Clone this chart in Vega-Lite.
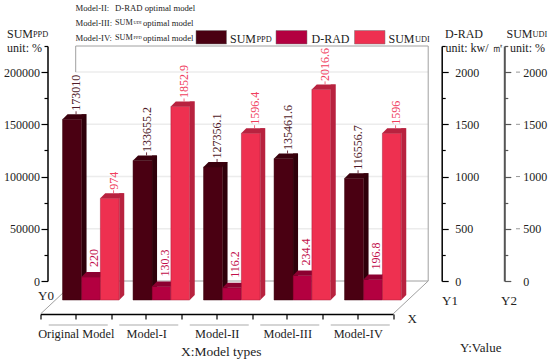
{
"$schema":"https://vega.github.io/schema/vega-lite/v6.json",
"width":352.5,"height":235,
"autosize":{"type":"none"},
"padding":{"left":40.5,"top":46,"right":157,"bottom":81},
"background":"white",
"config":{"view":{"stroke":null},"text":{"font":"Liberation Serif","fontSize":12,"align":"left","baseline":"middle","color":"#222"},"axis":{"labelFont":"Liberation Serif","labelFontSize":12,"labelColor":"#222","grid":false,"title":null}},
"datasets":{"bars":[
{"model":"Original Model","series":"SUMPPD","value":173010},
{"model":"Original Model","series":"D-RAD","value":220},
{"model":"Original Model","series":"SUMUDI","value":974},
{"model":"Model-I","series":"SUMPPD","value":133655.2},
{"model":"Model-I","series":"D-RAD","value":130.3},
{"model":"Model-I","series":"SUMUDI","value":1852.9},
{"model":"Model-II","series":"SUMPPD","value":127356.1},
{"model":"Model-II","series":"D-RAD","value":116.2},
{"model":"Model-II","series":"SUMUDI","value":1596.4},
{"model":"Model-III","series":"SUMPPD","value":135461.6},
{"model":"Model-III","series":"D-RAD","value":234.4},
{"model":"Model-III","series":"SUMUDI","value":2016.6},
{"model":"Model-IV","series":"SUMPPD","value":116556.7},
{"model":"Model-IV","series":"D-RAD","value":196.8},
{"model":"Model-IV","series":"SUMUDI","value":1596}
]},
"data":{"name":"bars"},
"resolve":{"scale":{"x":"independent","y":"independent"},"axis":{"x":"independent","y":"independent"}},
"layer":[
{"data":{"values":[{"level":50000},{"level":100000},{"level":150000},{"level":200000}]},
 "mark":{"type":"rule","color":"#ececec","strokeWidth":1.5,"xOffset":35.2,"x2Offset":35.2},
 "encoding":{"x":{"datum":0,"type":"quantitative","axis":null,"scale":{"domain":[0,5],"range":[0,352.5],"nice":false}},"x2":{"datum":5},
 "y":{"field":"level","type":"quantitative","axis":null,"scale":{"domain":[0,225000],"nice":false}}}},
{"data":{"values":[{"level":500},{"level":1000},{"level":1500},{"level":2000}]},
 "mark":{"type":"point","filled":false,"opacity":1,"size":4,"stroke":"#999","strokeWidth":1,"shape":"M-2,0L2,0","xOffset":125},
 "encoding":{"x":{"datum":5,"type":"quantitative","axis":null,"scale":{"domain":[0,5],"range":[0,352.5],"nice":false}},
 "y":{"field":"level","type":"quantitative","axis":null,"scale":{"domain":[0,2250],"nice":false}}}},
{"data":{"values":[{"part":"frame"}]},
 "encoding":{"x":{"datum":0,"type":"quantitative","axis":null,"scale":{"domain":[0,5],"range":[0,352.5],"nice":false}},"y":{"datum":0,"type":"quantitative","axis":null,"scale":{"domain":[0,225000],"nice":false}}},
 "layer":[
 {"mark":{"type":"rule","color":"#a0a0a0","strokeWidth":1,"xOffset":35.2,"x2Offset":35.2},"encoding":{"x2":{"datum":5},"y":{"datum":225000}}},
 {"mark":{"type":"rule","color":"#a0a0a0","strokeWidth":1,"xOffset":35.2,"x2Offset":35.2},"encoding":{"x2":{"datum":5}}},
 {"mark":{"type":"rule","color":"#a0a0a0","strokeWidth":1,"xOffset":35.2},"encoding":{"y":{"datum":225000},"y2":{"datum":200000}}},
 {"mark":{"type":"rule","color":"#a0a0a0","strokeWidth":1,"xOffset":35.2},"encoding":{"x":{"datum":5},"y":{"datum":225000},"y2":{"datum":0}}},
 {"mark":{"type":"rule","color":"#a0a0a0","strokeWidth":1,"yOffset":33,"y2Offset":0,"x2Offset":35.2},"encoding":{"x2":{"datum":0},"y2":{"datum":0}}},
 {"mark":{"type":"rule","color":"#a0a0a0","strokeWidth":1,"yOffset":33,"y2Offset":0,"x2Offset":35.2},"encoding":{"x":{"datum":5},"x2":{"datum":5},"y2":{"datum":0}}}
 ]},
{"data":{"values":[{"model":"Original Model"},{"model":"Model-I"},{"model":"Model-II"},{"model":"Model-III"},{"model":"Model-IV"}]},
 "mark":{"type":"tick","orient":"horizontal","size":59,"thickness":1.2,"color":"#8a8a8a","xOffset":2.5,"yOffset":44},
 "encoding":{"x":{"field":"model","type":"nominal","sort":null,"scale":{"domain":["Original Model","Model-I","Model-II","Model-III","Model-IV"],"range":[0,352.5],"paddingInner":0,"paddingOuter":0},
  "axis":{"orient":"bottom","offset":33,"domainColor":"#000","domainWidth":1.5,"tickColor":"#000","tickWidth":1.2,"tickSize":5,"tickBand":"extent","tickExtra":true,"labelAngle":0,"labelPadding":8,"labelBaseline":"top","labelFontSize":12.3}},
  "y":{"datum":0,"type":"quantitative","axis":null,"scale":{"domain":[0,225000],"nice":false}}}},
{"data":{"values":[{"model":"Original Model"},{"model":"Model-I"},{"model":"Model-II"},{"model":"Model-III"},{"model":"Model-IV"}]},
 "mark":{"type":"point","opacity":0},
 "encoding":{"x":{"field":"model","type":"nominal","sort":null,"scale":{"domain":["Original Model","Model-I","Model-II","Model-III","Model-IV"],"range":[0,352.5],"paddingInner":0,"paddingOuter":0},
  "axis":{"orient":"bottom","offset":33,"domain":false,"labels":false,"tickColor":"#000","tickWidth":1.2,"tickSize":5,"tickBand":"center"}},
  "y":{"datum":0,"type":"quantitative","axis":null,"scale":{"domain":[0,225000],"nice":false}}}},
{"transform":[{"filter":"datum.series==='SUMPPD'"}],
 "encoding":{"x":{"field":"model","type":"nominal","sort":null,"axis":null,"scale":{"domain":["Original Model","Model-I","Model-II","Model-III","Model-IV"],"range":[0,352.5],"paddingInner":0,"paddingOuter":0}},
 "y":{"field":"value","type":"quantitative","scale":{"domain":[0,225000],"nice":false},
  "axis":{"orient":"left","offset":-7,"values":[0,25000,50000,75000,100000,125000,150000,175000,200000,225000],"format":"d","labelExpr":"datum.value%50000===0?datum.label:''","domainColor":"#000","domainWidth":1.5,"tickColor":"#000","tickWidth":1.2,"tickSize":{"condition":{"test":"datum.value%50000===0","value":6.5},"value":3.5},"labelPadding":1.5,"labelOverlap":false,"labelBound":false,"labelFlush":false}}},
 "layer":[
 {"mark":{"type":"bar","width":5,"color":"#2f000a","xOffset":8.3,"yOffset":14,"y2Offset":14},"encoding":{"y2":{"datum":0}}},
 {"mark":{"type":"point","filled":true,"opacity":1,"size":4,"color":"#2f000a","shape":"M0,0L5,0L0,5Z","xOffset":5.8,"yOffset":14},"encoding":{"y":{"datum":0}}},
 {"mark":{"type":"bar","width":19,"color":"#4a0012","stroke":"#3a000d","strokeWidth":0.5,"xOffset":-3.7,"yOffset":19,"y2Offset":19},"encoding":{"y2":{"datum":0}}},
 {"mark":{"type":"point","filled":true,"opacity":1,"size":4,"color":"#3a000d","shape":"M-12,2.5L7,2.5L12,-2.5L-7,-2.5Z","xOffset":-1.2,"yOffset":16.5}},
 {"mark":{"type":"point","filled":false,"opacity":1,"size":4,"stroke":"#4a0012","strokeWidth":0.8,"shape":"M0,0L0,-3","xOffset":0.3,"yOffset":14}},
 {"mark":{"type":"text","angle":270,"align":"left","baseline":"middle","color":"#4f1a28","xOffset":0.3,"yOffset":10.5},"encoding":{"text":{"field":"value","type":"nominal"}}}
 ]},
{"transform":[{"filter":"datum.series==='D-RAD'"}],
 "encoding":{"x":{"field":"model","type":"nominal","sort":null,"axis":null,"scale":{"domain":["Original Model","Model-I","Model-II","Model-III","Model-IV"],"range":[0,352.5],"paddingInner":0,"paddingOuter":0}},
 "y":{"field":"value","type":"quantitative","scale":{"domain":[0,2250],"nice":false},
  "axis":{"orient":"right","offset":48.7,"values":[0,250,500,750,1000,1250,1500,1750,2000,2250],"format":"d","labelExpr":"datum.value%500===0?datum.label:''","domainColor":"#000","domainWidth":1.5,"tickColor":"#000","tickWidth":1.2,"tickSize":{"condition":{"test":"datum.value%500===0","value":6.5},"value":3.5},"labelPadding":6.5,"labelAlign":"left","labelOverlap":false,"labelBound":false,"labelFlush":false}}},
 "layer":[
 {"mark":{"type":"bar","width":5,"color":"#8c0030","xOffset":27.2,"yOffset":14,"y2Offset":14},"encoding":{"y2":{"datum":0}}},
 {"mark":{"type":"point","filled":true,"opacity":1,"size":4,"color":"#8c0030","shape":"M0,0L5,0L0,5Z","xOffset":24.7,"yOffset":14},"encoding":{"y":{"datum":0}}},
 {"mark":{"type":"bar","width":18.7,"color":"#b30040","stroke":"#7a0028","strokeWidth":0.5,"xOffset":15.2,"yOffset":19,"y2Offset":19},"encoding":{"y2":{"datum":0}}},
 {"mark":{"type":"point","filled":true,"opacity":1,"size":4,"color":"#8c0030","shape":"M-12,2.5L7,2.5L12,-2.5L-7,-2.5Z","xOffset":17.7,"yOffset":16.5}},
 {"mark":{"type":"text","angle":270,"align":"left","baseline":"middle","color":"#c2104c","xOffset":18.4,"yOffset":9},"encoding":{"text":{"field":"value","type":"nominal"}}}
 ]},
{"transform":[{"filter":"datum.series==='SUMUDI'"}],
 "encoding":{"x":{"field":"model","type":"nominal","sort":null,"axis":null,"scale":{"domain":["Original Model","Model-I","Model-II","Model-III","Model-IV"],"range":[0,352.5],"paddingInner":0,"paddingOuter":0}},
 "y":{"field":"value","type":"quantitative","scale":{"domain":[0,2250],"nice":false},
  "axis":{"orient":"right","offset":111.3,"values":[0,250,500,750,1000,1250,1500,1750,2000,2250],"format":"d","labelExpr":"datum.value%500===0?datum.label:''","domainColor":"#555","domainWidth":2,"tickColor":"#555","tickWidth":1.2,"tickSize":{"condition":{"test":"datum.value%500===0","value":6.5},"value":3.5},"labelPadding":12,"labelAlign":"left","labelOverlap":false,"labelBound":false,"labelFlush":false}}},
 "layer":[
 {"mark":{"type":"bar","width":5,"color":"#b8223f","xOffset":46,"yOffset":14,"y2Offset":14},"encoding":{"y2":{"datum":0}}},
 {"mark":{"type":"point","filled":true,"opacity":1,"size":4,"color":"#b8223f","shape":"M0,0L5,0L0,5Z","xOffset":43.5,"yOffset":14},"encoding":{"y":{"datum":0}}},
 {"mark":{"type":"bar","width":18.7,"color":"#ee3050","stroke":"#a81c38","strokeWidth":0.5,"xOffset":34,"yOffset":19,"y2Offset":19},"encoding":{"y2":{"datum":0}}},
 {"mark":{"type":"point","filled":true,"opacity":1,"size":4,"color":"#b8223f","shape":"M-12,2.5L7,2.5L12,-2.5L-7,-2.5Z","xOffset":36.5,"yOffset":16.5}},
 {"mark":{"type":"point","filled":false,"opacity":1,"size":4,"stroke":"#f0405e","strokeWidth":0.8,"shape":"M0,0L0,-3","xOffset":37.8,"yOffset":14}},
 {"mark":{"type":"text","angle":270,"align":"left","baseline":"middle","color":"#f0405e","xOffset":37.8,"yOffset":10.5},"encoding":{"text":{"field":"value","type":"nominal"}}}
 ]},
{"data":{"values":[{"part":"annotations"}]},
 "layer":[
 {"mark":{"type":"rect","color":"#4a0012","stroke":"#777","strokeWidth":0.5},"encoding":{"x":{"datum":196,"axis":null,"scale":{"domain":[0,550],"range":[-40.5,509.5],"nice":false,"zero":false}},"x2":{"datum":226.5},"y":{"datum":30.5,"axis":null,"scale":{"domain":[0,362],"range":[-46,316],"nice":false,"zero":false}},"y2":{"datum":44}}},
 {"mark":{"type":"rect","color":"#b30040","stroke":"#777","strokeWidth":0.5},"encoding":{"x":{"datum":276,"axis":null},"x2":{"datum":307},"y":{"datum":30.5,"axis":null},"y2":{"datum":44}}},
 {"mark":{"type":"rect","color":"#ee3050","stroke":"#777","strokeWidth":0.5},"encoding":{"x":{"datum":354.5,"axis":null},"x2":{"datum":385},"y":{"datum":30.5,"axis":null},"y2":{"datum":44}}},
 {"mark":{"type":"text","text":"SUM","fontSize":12},"encoding":{"x":{"datum":230,"axis":null},"y":{"datum":39,"axis":null}}},
 {"mark":{"type":"text","text":"PPD","fontSize":8.3},"encoding":{"x":{"datum":256.5,"axis":null},"y":{"datum":39.5,"axis":null}}},
 {"mark":{"type":"text","text":"D-RAD","fontSize":12},"encoding":{"x":{"datum":311.5,"axis":null},"y":{"datum":39,"axis":null}}},
 {"mark":{"type":"text","text":"SUM","fontSize":12},"encoding":{"x":{"datum":388.5,"axis":null},"y":{"datum":39,"axis":null}}},
 {"mark":{"type":"text","text":"UDI","fontSize":8.3},"encoding":{"x":{"datum":415,"axis":null},"y":{"datum":39.5,"axis":null}}},
 {"mark":{"type":"text","text":"SUM"},"encoding":{"x":{"datum":7,"axis":null},"y":{"datum":34,"axis":null}}},
 {"mark":{"type":"text","text":"PPD","fontSize":8.3},"encoding":{"x":{"datum":33,"axis":null},"y":{"datum":34.5,"axis":null}}},
 {"mark":{"type":"text","text":"unit: %"},"encoding":{"x":{"datum":7,"axis":null},"y":{"datum":48,"axis":null}}},
 {"mark":{"type":"text","text":"D-RAD"},"encoding":{"x":{"datum":445,"axis":null},"y":{"datum":34,"axis":null}}},
 {"mark":{"type":"text","text":"unit: kw/ ㎡"},"encoding":{"x":{"datum":445.5,"axis":null},"y":{"datum":48,"axis":null}}},
 {"mark":{"type":"text","text":"SUM"},"encoding":{"x":{"datum":506.5,"axis":null},"y":{"datum":34,"axis":null}}},
 {"mark":{"type":"text","text":"UDI","fontSize":8.3},"encoding":{"x":{"datum":532.5,"axis":null},"y":{"datum":34.5,"axis":null}}},
 {"mark":{"type":"text","text":"unit: %"},"encoding":{"x":{"datum":510,"axis":null},"y":{"datum":48,"axis":null}}},
 {"mark":{"type":"text","text":"Model-II:","fontSize":8.7},"encoding":{"x":{"datum":75.5,"axis":null},"y":{"datum":7.5,"axis":null}}},
 {"mark":{"type":"text","text":"D-RAD optimal model","fontSize":8.7},"encoding":{"x":{"datum":115,"axis":null},"y":{"datum":7.5,"axis":null}}},
 {"mark":{"type":"text","text":"Model-III:","fontSize":8.7},"encoding":{"x":{"datum":75.5,"axis":null},"y":{"datum":22.5,"axis":null}}},
 {"mark":{"type":"text","text":"SUM","fontSize":8.2},"encoding":{"x":{"datum":115,"axis":null},"y":{"datum":22.5,"axis":null}}},
 {"mark":{"type":"text","text":"UDI","fontSize":4.5},"encoding":{"x":{"datum":133.5,"axis":null},"y":{"datum":23,"axis":null}}},
 {"mark":{"type":"text","text":"optimal model","fontSize":8.7},"encoding":{"x":{"datum":143,"axis":null},"y":{"datum":22.5,"axis":null}}},
 {"mark":{"type":"text","text":"Model-IV:","fontSize":8.7},"encoding":{"x":{"datum":75.5,"axis":null},"y":{"datum":37.5,"axis":null}}},
 {"mark":{"type":"text","text":"SUM","fontSize":8.2},"encoding":{"x":{"datum":115,"axis":null},"y":{"datum":37.5,"axis":null}}},
 {"mark":{"type":"text","text":"PPD","fontSize":4.5},"encoding":{"x":{"datum":133.5,"axis":null},"y":{"datum":38,"axis":null}}},
 {"mark":{"type":"text","text":"optimal model","fontSize":8.7},"encoding":{"x":{"datum":143,"axis":null},"y":{"datum":37.5,"axis":null}}},
 {"mark":{"type":"text","text":"Y0","fontSize":13},"encoding":{"x":{"datum":38,"axis":null},"y":{"datum":296,"axis":null}}},
 {"mark":{"type":"text","text":"Y1","fontSize":13},"encoding":{"x":{"datum":442,"axis":null},"y":{"datum":301,"axis":null}}},
 {"mark":{"type":"text","text":"Y2","fontSize":13},"encoding":{"x":{"datum":501,"axis":null},"y":{"datum":301,"axis":null}}},
 {"mark":{"type":"text","text":"X","fontSize":13},"encoding":{"x":{"datum":407.5,"axis":null},"y":{"datum":318.5,"axis":null}}},
 {"mark":{"type":"text","text":"X:Model types","fontSize":13.5},"encoding":{"x":{"datum":181,"axis":null},"y":{"datum":351.5,"axis":null}}},
 {"mark":{"type":"text","text":"Y:Value","fontSize":13},"encoding":{"x":{"datum":460,"axis":null},"y":{"datum":347.5,"axis":null}}}
 ]}
]}
